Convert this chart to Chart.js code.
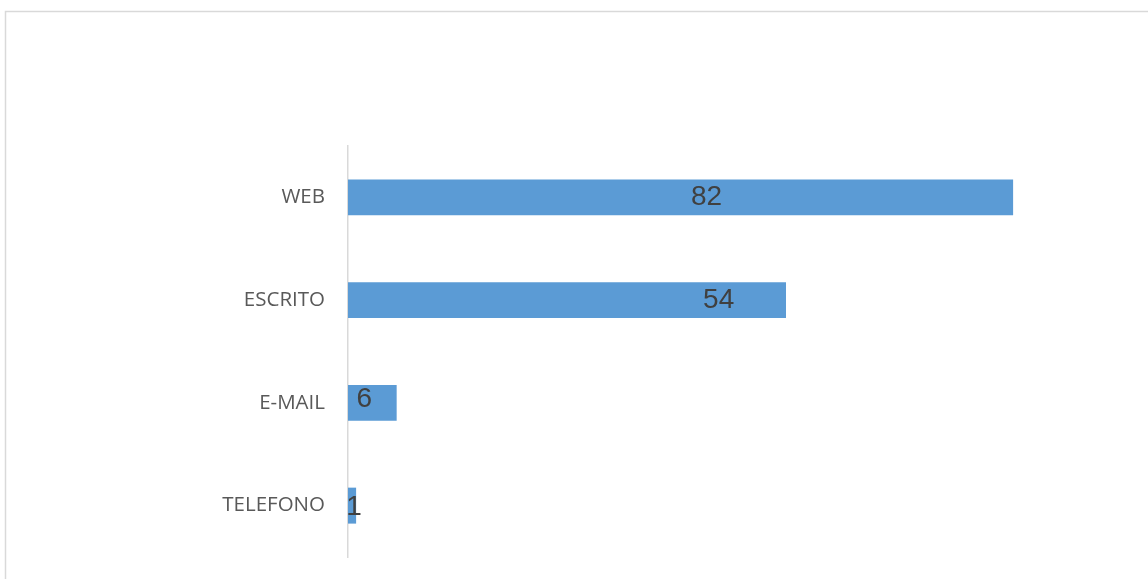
<!DOCTYPE html>
<html>
<head>
<meta charset="utf-8">
<script src="https://cdn.jsdelivr.net/npm/chart.js@4"></script>
<style>
    html, body { margin: 0; padding: 0; background: #fff; }
    #wrap { width: 1148px; height: 579px; position: relative; }
</style>
</head>
<body>
<div id="wrap"><canvas id="canalesChart"></canvas></div>
<script>
const categories = ['WEB', 'ESCRITO', 'E-MAIL', 'TELEFONO'];
const totals = [82, 54, 6, 1];

// frame around the whole chart
const framePlugin = {
    id: 'frame',
    beforeDraw(chart) {
        const ctx = chart.ctx;
        ctx.save();
        ctx.strokeStyle = '#d9d9d9';
        ctx.lineWidth = 1.5;
        ctx.strokeRect(5.5, 11.5, 1300, 800);
        ctx.restore();
    }
};

// value labels, each placed at its own spot along the bar (in axis units)
const valueLabels = {
    id: 'valueLabels',
    afterDatasetsDraw(chart, args, opts) {
        const ctx = chart.ctx;
        const xScale = chart.scales.x;
        const meta = chart.getDatasetMeta(0);
        ctx.save();
        ctx.font = '28px "Liberation Sans", Arial, sans-serif';
        ctx.fillStyle = '#404040';
        ctx.textAlign = 'center';
        ctx.textBaseline = 'middle';
        meta.data.forEach((bar, i) => {
            const x = xScale.getPixelForValue(opts.at[i]);
            ctx.fillText(String(totals[i]), x, bar.y + opts.dy[i]);
        });
        ctx.restore();
    }
};

const ctx = document.getElementById('canalesChart').getContext('2d');

new Chart(ctx, {
    type: 'bar',
    data: {
        labels: categories,
        datasets: [{
            data: totals,
            backgroundColor: '#5b9bd5',
            borderWidth: 0,
            categoryPercentage: 1,
            barPercentage: 0.35
        }]
    },
    options: {
        indexAxis: 'y',
        responsive: true,
        maintainAspectRatio: false,
        animation: false,
        layout: { padding: { top: 146, bottom: 22, left: 0, right: 70 } },
        plugins: {
            legend: { display: false },
            tooltip: { enabled: false },
            valueLabels: { at: [44.2, 45.7, 2.0, 0.75], dy: [0, 0, -4, 2] }
        },
        scales: {
            x: { display: false, min: 0, max: 90 },
            y: {
                afterFit(scale) {
                    scale.width = 348;
                    scale.paddingTop = 0;
                    scale.paddingBottom = 0;
                },
                grid: { display: false },
                border: { display: true, color: '#d9d9d9', width: 1.5 },
                ticks: {
                    padding: 15,
                    color: '#595959',
                    font: { family: '"Open Sans", sans-serif', size: 20.5 }
                }
            }
        }
    },
    plugins: [framePlugin, valueLabels]
});
</script>
</body>
</html>
